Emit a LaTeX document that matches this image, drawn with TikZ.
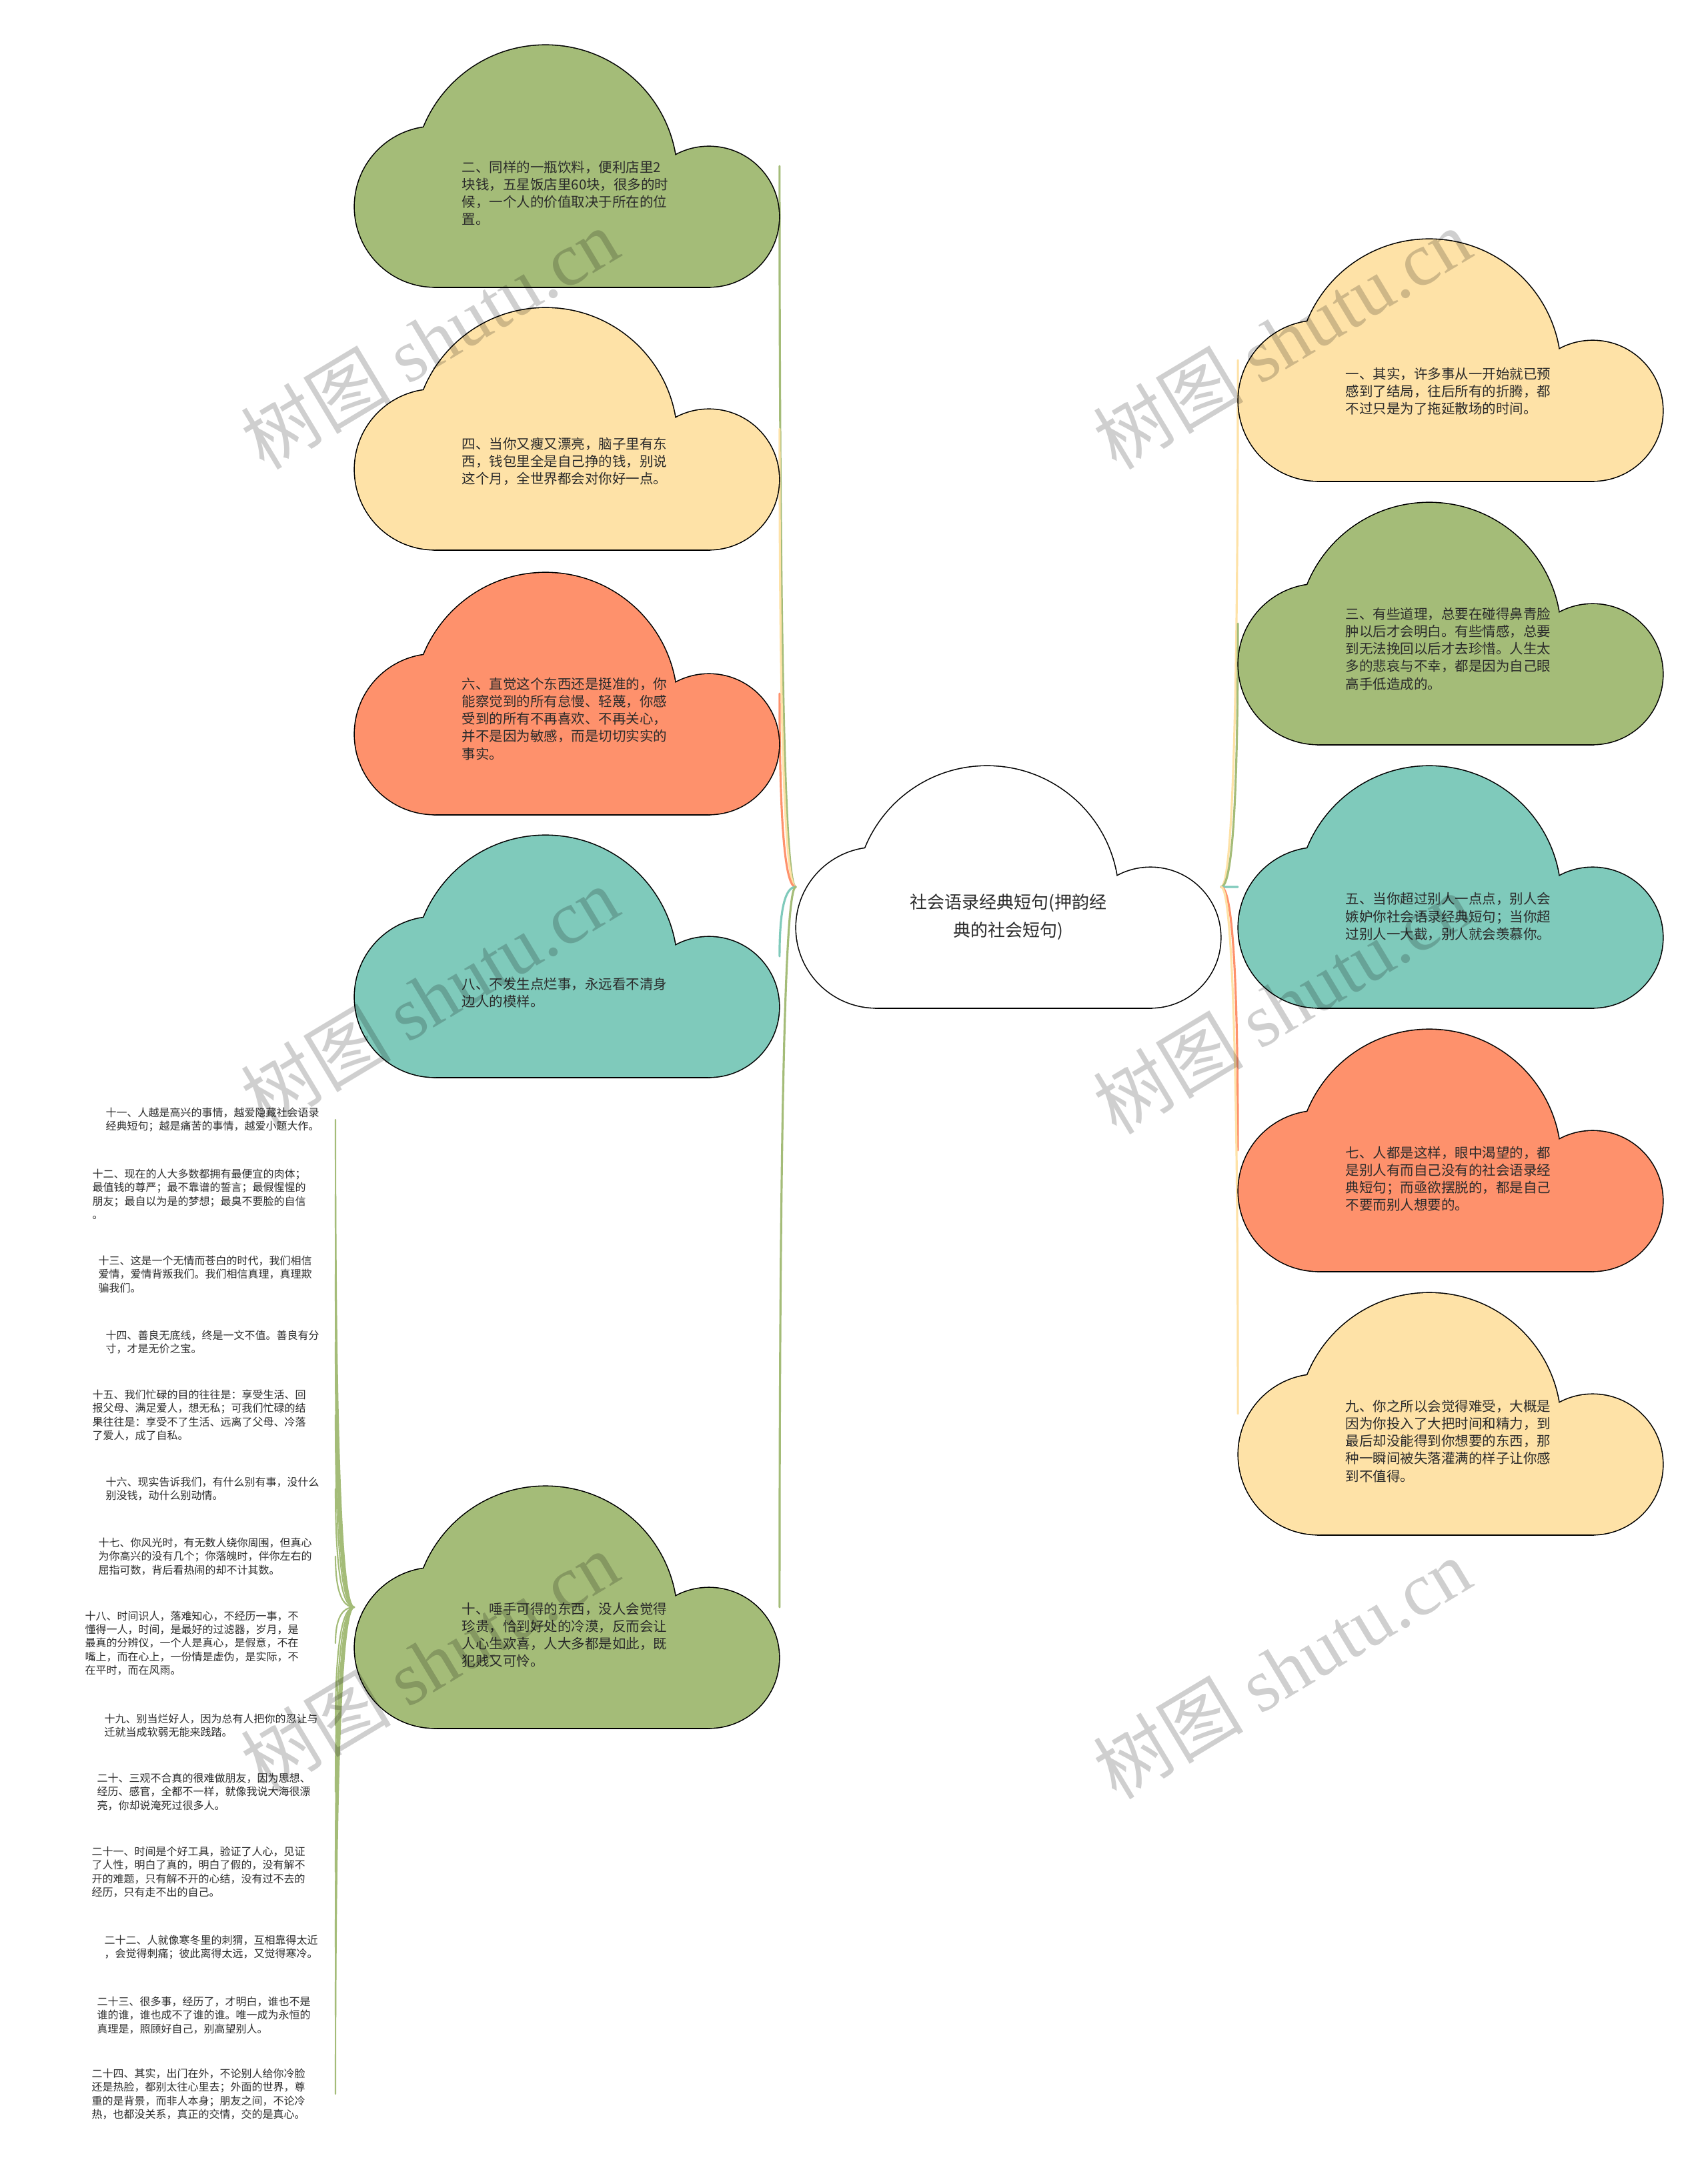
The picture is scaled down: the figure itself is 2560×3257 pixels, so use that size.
\documentclass[tikz,border=0pt]{standalone}
\usepackage{fontspec}
\setmainfont{Noto Sans CJK SC}
\newfontfamily\wmlatin{Liberation Serif}
\usetikzlibrary{calc}
\definecolor{cgreen}{HTML}{A4BC78}
\definecolor{cyellow}{HTML}{FEE2A7}
\definecolor{corange}{HTML}{FE916C}
\definecolor{cteal}{HTML}{7FCABB}
\definecolor{ctext}{HTML}{2B2B2B}
\tikzset{
 cloudedge/.style={draw=black,line width=0.9pt},
 cloudbox/.style={minimum width=6.36cm,minimum height=3.62cm,inner sep=0pt,draw=none},
 ctxt/.style={font=\fontsize{5.83pt}{7.48pt}\selectfont,align=left,inner sep=0pt,text=ctext,anchor=north west},
 ltxt/.style={font=\fontsize{4.55pt}{5.8pt}\selectfont,align=left,inner sep=0pt,text=ctext,anchor=north west},
 roottxt/.style={font=\fontsize{7.4pt}{11.8pt}\selectfont,align=center,inner sep=0pt,text=ctext},
 wm/.style={rotate=31,text=black,text opacity=0.19,font=\fontsize{32pt}{32pt}\selectfont}
}
\newcommand\cloudbg[3]{%
 \begin{scope}[shift={(#1-318,#2-181)}]
  \draw[cloudedge] (120,242) circle[radius=120];
  \draw[cloudedge] (531,257) circle[radius=105];
  \draw[cloudedge] (120,200) rectangle (531,362);
  \draw[cloudedge] (89,300) -- (89,197) arc[start angle=180,end angle=360,radius=197] -- (483,300) -- cycle;
  \fill[#3] (120,242) circle[radius=120];
  \fill[#3] (531,257) circle[radius=105];
  \fill[#3] (120,200) rectangle (531,362);
  \fill[#3] (89,300) -- (89,197) arc[start angle=180,end angle=360,radius=197] -- (483,300) -- cycle;
 \end{scope}}
\newcommand\conn[4]{%
 \draw[#1,line width=#4,line cap=round] (#2) .. controls ($(#2)!0.667!(#3 |- #2)$) and ($(#3)!0.667!(#3 |- #2)$) .. (#3);}
\begin{document}
\begin{tikzpicture}[x=0.01cm,y=-0.01cm]
\fill[white] (0,0) rectangle (2560,3257);
\useasboundingbox (0,0) rectangle (2560,3257);
% cloud boxes
\node[cloudbox] (root) at (1512,1330) {};
\node[cloudbox] (c2) at (850,249) {};
\node[cloudbox] (c4) at (850,643) {};
\node[cloudbox] (c6) at (850,1040) {};
\node[cloudbox] (c8) at (850,1434) {};
\node[cloudbox] (c10) at (850,2410) {};
\node[cloudbox] (c1) at (2175,540) {};
\node[cloudbox] (c3) at (2175,935) {};
\node[cloudbox] (c5) at (2175,1330) {};
\node[cloudbox] (c7) at (2175,1725) {};
\node[cloudbox] (c9) at (2175,2120) {};
\coordinate (lx) at (503,0);
% list items
\node[ltxt] (i11) at (158,1660) {十一、人越是高兴的事情，越爱隐藏社会语录\\经典短句；越是痛苦的事情，越爱小题大作。};
\node[ltxt] (i12) at (138,1752) {十二、现在的人大多数都拥有最便宜的肉体；\\最值钱的尊严；最不靠谱的誓言；最假惺惺的\\朋友；最自以为是的梦想；最臭不要脸的自信\\。};
\node[ltxt] (i13) at (147,1882) {十三、这是一个无情而苍白的时代，我们相信\\爱情，爱情背叛我们。我们相信真理，真理欺\\骗我们。};
\node[ltxt] (i14) at (158,1994) {十四、善良无底线，终是一文不值。善良有分\\寸，才是无价之宝。};
\node[ltxt] (i15) at (138,2083) {十五、我们忙碌的目的往往是：享受生活、回\\报父母、满足爱人，想无私；可我们忙碌的结\\果往往是：享受不了生活、远离了父母、冷落\\了爱人，成了自私。};
\node[ltxt] (i16) at (158,2214) {十六、现实告诉我们，有什么别有事，没什么\\别没钱，动什么别动情。};
\node[ltxt] (i17) at (147,2305) {十七、你风光时，有无数人绕你周围，但真心\\为你高兴的没有几个；你落魄时，伴你左右的\\屈指可数，背后看热闹的却不计其数。};
\node[ltxt] (i18) at (127,2415) {十八、时间识人，落难知心，不经历一事，不\\懂得一人，时间，是最好的过滤器，岁月，是\\最真的分辨仪，一个人是真心，是假意，不在\\嘴上，而在心上，一份情是虚伪，是实际，不\\在平时，而在风雨。};
\node[ltxt] (i19) at (156,2569) {十九、别当烂好人，因为总有人把你的忍让与\\迁就当成软弱无能来践踏。};
\node[ltxt] (i20) at (145,2658) {二十、三观不合真的很难做朋友，因为思想、\\经历、感官，全都不一样，就像我说大海很漂\\亮，你却说淹死过很多人。};
\node[ltxt] (i21) at (137,2768) {二十一、时间是个好工具，验证了人心，见证\\了人性，明白了真的，明白了假的，没有解不\\开的难题，只有解不开的心结，没有过不去的\\经历，只有走不出的自己。};
\node[ltxt] (i22) at (156,2901) {二十二、人就像寒冬里的刺猬，互相靠得太近\\，会觉得刺痛；彼此离得太远，又觉得寒冷。};
\node[ltxt] (i23) at (145,2993) {二十三、很多事，经历了，才明白，谁也不是\\谁的谁，谁也成不了谁的谁。唯一成为永恒的\\真理是，照顾好自己，别高望别人。};
\node[ltxt] (i24) at (137,3101) {二十四、其实，出门在外，不论别人给你冷脸\\还是热脸，都别太往心里去；外面的世界，尊\\重的是背景，而非人本身；朋友之间，不论冷\\热，也都没关系，真正的交情，交的是真心。};
% connectors
\conn{cgreen}{root.west}{c2.east}{0.9pt}
\conn{cyellow}{root.west}{c4.east}{0.9pt}
\conn{corange}{root.west}{c6.east}{0.9pt}
\conn{cteal}{root.west}{c8.east}{0.9pt}
\conn{cgreen}{root.west}{c10.east}{0.9pt}
\conn{cyellow}{root.east}{c1.west}{0.9pt}
\conn{cgreen}{root.east}{c3.west}{0.9pt}
\conn{cteal}{root.east}{c5.west}{0.9pt}
\conn{corange}{root.east}{c7.west}{0.9pt}
\conn{cyellow}{root.east}{c9.west}{0.9pt}
\foreach \i in {i11,i12,i13,i14,i15,i16,i17,i18,i19,i20,i21,i22,i23,i24}{
 \coordinate (e\i) at (\i.east -| lx);
 \conn{cgreen}{c10.west}{e\i}{0.6pt}
}
% clouds
\cloudbg{1512}{1330}{white}
\cloudbg{850}{249}{cgreen}
\cloudbg{850}{643}{cyellow}
\cloudbg{850}{1040}{corange}
\cloudbg{850}{1434}{cteal}
\cloudbg{850}{2410}{cgreen}
\cloudbg{2175}{540}{cyellow}
\cloudbg{2175}{935}{cgreen}
\cloudbg{2175}{1330}{cteal}
\cloudbg{2175}{1725}{corange}
\cloudbg{2175}{2120}{cyellow}
% texts
\node[roottxt] (rt) at (1512,1375) {社会语录经典短句(押韵经\\典的社会短句)};
\node[ctxt] (t2) at (692,240) {二、同样的一瓶饮料，便利店里2\\块钱，五星饭店里60块，很多的时\\候，一个人的价值取决于所在的位\\置。};
\node[ctxt] (t4) at (692,655) {四、当你又瘦又漂亮，脑子里有东\\西，钱包里全是自己挣的钱，别说\\这个月，全世界都会对你好一点。};
\node[ctxt] (t6) at (692,1015) {六、直觉这个东西还是挺准的，你\\能察觉到的所有怠慢、轻蔑，你感\\受到的所有不再喜欢、不再关心，\\并不是因为敏感，而是切切实实的\\事实。};
\node[ctxt] (t8) at (692,1465) {八、不发生点烂事，永远看不清身\\边人的模样。};
\node[ctxt] (t10) at (692,2402) {十、唾手可得的东西，没人会觉得\\珍贵，恰到好处的冷漠，反而会让\\人心生欢喜，人大多都是如此，既\\犯贱又可怜。};
\node[ctxt] (t1) at (2017,550) {一、其实，许多事从一开始就已预\\感到了结局，往后所有的折腾，都\\不过只是为了拖延散场的时间。};
\node[ctxt] (t3) at (2017,910) {三、有些道理，总要在碰得鼻青脸\\肿以后才会明白。有些情感，总要\\到无法挽回以后才去珍惜。人生太\\多的悲哀与不幸，都是因为自己眼\\高手低造成的。};
\node[ctxt] (t5) at (2017,1338) {五、当你超过别人一点点，别人会\\嫉妒你社会语录经典短句；当你超\\过别人一大截，别人就会羡慕你。};
\node[ctxt] (t7) at (2017,1718) {七、人都是这样，眼中渴望的，都\\是别人有而自己没有的社会语录经\\典短句；而亟欲摆脱的，都是自己\\不要而别人想要的。};
\node[ctxt] (t9) at (2017,2098) {九、你之所以会觉得难受，大概是\\因为你投入了大把时间和精力，到\\最后却没能得到你想要的东西，那\\种一瞬间被失落灌满的样子让你感\\到不值得。};
% watermarks
\node[wm] (w1) at (644,508) {树图 {\wmlatin shutu.cn}};
\node[wm] (w2) at (1922,508) {树图 {\wmlatin shutu.cn}};
\node[wm] (w3) at (644,1495) {树图 {\wmlatin shutu.cn}};
\node[wm] (w4) at (1922,1505) {树图 {\wmlatin shutu.cn}};
\node[wm] (w5) at (644,2492) {树图 {\wmlatin shutu.cn}};
\node[wm] (w6) at (1922,2502) {树图 {\wmlatin shutu.cn}};
\end{tikzpicture}
\end{document}
